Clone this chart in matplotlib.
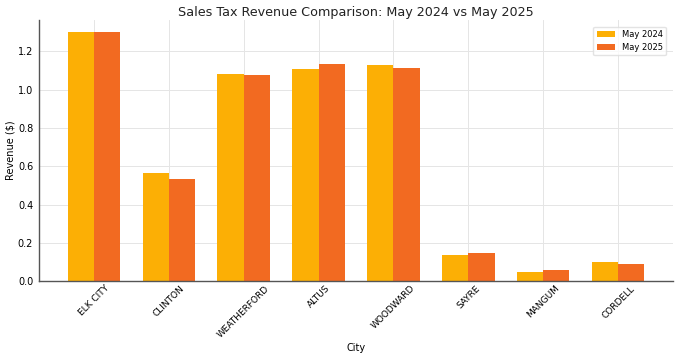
import numpy as np
import matplotlib.pyplot as plt

# Data
cities = ['ELK CITY', 'CLINTON', 'WEATHERFORD', 'ALTUS', 'WOODWARD', 'SAYRE', 'MANGUM', 'CORDELL']
may_2024 = [1.300, 0.566, 1.080, 1.110, 1.130, 0.138, 0.047, 0.098]
may_2025 = [1.300, 0.535, 1.078, 1.132, 1.116, 0.147, 0.056, 0.088]

x = np.arange(len(cities))
width = 0.35

fig = plt.figure(figsize=(6.8, 3.55), dpi=100)
ax = fig.add_axes([0.057, 0.208, 0.933, 0.736])

ax.bar(x - width / 2, may_2024, width, label='May 2024', color='#FCAF05')
ax.bar(x + width / 2, may_2025, width, label='May 2025', color='#F26A21')

ax.set_title('Sales Tax Revenue Comparison: May 2024 vs May 2025', fontsize=9.2, pad=3, color='#222222')
ax.set_xlabel('City', fontsize=7)
ax.xaxis.set_label_coords(0.5, -0.235)
ax.set_ylabel('Revenue ($)', fontsize=7)
ax.yaxis.set_label_coords(-0.036, 0.5)
ax.set_xticks(x)
ax.set_xticklabels(cities, rotation=45, fontsize=6.5)
ax.tick_params(axis='y', labelsize=7, length=0, pad=4)
ax.tick_params(axis='x', length=0, pad=2)
ax.set_yticks([0.0, 0.2, 0.4, 0.6, 0.8, 1.0, 1.2])

ax.grid(True, color='#E5E5E5', linewidth=0.7)
ax.set_axisbelow(True)
for side in ['top', 'right']:
    ax.spines[side].set_visible(False)
for side in ['left', 'bottom']:
    ax.spines[side].set_color('#555555')
    ax.spines[side].set_linewidth(1.0)

ax.legend(fontsize=6, loc='upper right', bbox_to_anchor=(0.995, 0.99), frameon=True,
          edgecolor='#DDDDDD', handlelength=2.2)

fig.savefig('out.png', dpi=100)
